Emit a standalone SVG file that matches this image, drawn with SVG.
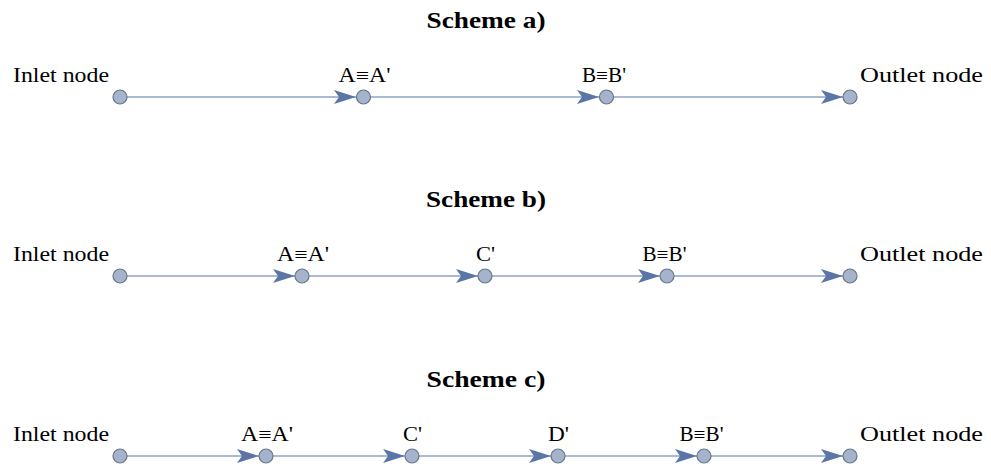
<svg xmlns="http://www.w3.org/2000/svg" xmlns:xlink="http://www.w3.org/1999/xlink" width="991" height="467" viewBox="0 0 991 467">
  <style>
    .title { font-family: "Liberation Serif", "Times New Roman", serif; font-weight: bold; font-size: 23px; fill: #000; text-anchor: middle; }
    .lbl { font-family: "Liberation Serif", "Times New Roman", serif; font-size: 20px; fill: #000; }
    .mid { text-anchor: middle; }
    .edge { stroke: #8ea3c6; stroke-width: 1.4; fill: none; }
    .head { fill: #5b76a6; }
    .node circle { fill: #a5b4cc; stroke: #687686; stroke-width: 1.2; }
  </style>
  <defs>
    <!-- notched arrowhead, tip at origin pointing right -->
    <path id="ah" class="head" d="M0,0 L-22,-7 L-17,0 L-22,7 Z"/>
  </defs>
  <rect width="991" height="467" fill="#fff"/>

  <!-- titles -->
  <text class="title" x="486" y="27.5" textLength="119" lengthAdjust="spacingAndGlyphs">Scheme a)</text>
  <text class="title" x="486" y="207" textLength="120" lengthAdjust="spacingAndGlyphs">Scheme b)</text>
  <text class="title" x="486" y="386.5" textLength="119" lengthAdjust="spacingAndGlyphs">Scheme c)</text>

  <!-- connectors -->
  <g id="connectors">
    <!-- scheme a -->
    <line class="edge" x1="120" y1="97" x2="850" y2="97"/>
    <use xlink:href="#ah" x="356" y="97"/>
    <use xlink:href="#ah" x="599" y="97"/>
    <use xlink:href="#ah" x="843" y="97"/>
    <!-- scheme b -->
    <line class="edge" x1="120" y1="276" x2="850" y2="276"/>
    <use xlink:href="#ah" x="295" y="276"/>
    <use xlink:href="#ah" x="478" y="276"/>
    <use xlink:href="#ah" x="660" y="276"/>
    <use xlink:href="#ah" x="843" y="276"/>
    <!-- scheme c -->
    <line class="edge" x1="120" y1="456" x2="850" y2="456"/>
    <use xlink:href="#ah" x="259" y="456"/>
    <use xlink:href="#ah" x="405" y="456"/>
    <use xlink:href="#ah" x="551" y="456"/>
    <use xlink:href="#ah" x="697" y="456"/>
    <use xlink:href="#ah" x="843" y="456"/>
  </g>

  <!-- scheme a nodes -->
  <g id="a-inlet" class="node"><circle cx="120" cy="97" r="7"/><text class="lbl" x="13" y="82" textLength="96" lengthAdjust="spacingAndGlyphs">Inlet node</text></g>
  <g id="a-A" class="node"><circle cx="363.5" cy="97" r="7"/><text class="lbl mid" x="364.5" y="82" textLength="52" lengthAdjust="spacingAndGlyphs">A≡A'</text></g>
  <g id="a-B" class="node"><circle cx="606.5" cy="97" r="7"/><text class="lbl mid" x="604" y="82" textLength="44" lengthAdjust="spacingAndGlyphs">B≡B'</text></g>
  <g id="a-outlet" class="node"><circle cx="850" cy="97" r="7"/><text class="lbl" x="860" y="82" textLength="123" lengthAdjust="spacingAndGlyphs">Outlet node</text></g>

  <!-- scheme b nodes -->
  <g id="b-inlet" class="node"><circle cx="120" cy="276" r="7"/><text class="lbl" x="13" y="261" textLength="96" lengthAdjust="spacingAndGlyphs">Inlet node</text></g>
  <g id="b-A" class="node"><circle cx="302" cy="276" r="7"/><text class="lbl mid" x="303" y="261" textLength="52" lengthAdjust="spacingAndGlyphs">A≡A'</text></g>
  <g id="b-C" class="node"><circle cx="485" cy="276" r="7"/><text class="lbl mid" x="485.5" y="261" textLength="19" lengthAdjust="spacingAndGlyphs">C'</text></g>
  <g id="b-B" class="node"><circle cx="667" cy="276" r="7"/><text class="lbl mid" x="664.5" y="261" textLength="44" lengthAdjust="spacingAndGlyphs">B≡B'</text></g>
  <g id="b-outlet" class="node"><circle cx="850" cy="276" r="7"/><text class="lbl" x="860" y="261" textLength="123" lengthAdjust="spacingAndGlyphs">Outlet node</text></g>

  <!-- scheme c nodes -->
  <g id="c-inlet" class="node"><circle cx="120" cy="456" r="7"/><text class="lbl" x="13" y="441" textLength="96" lengthAdjust="spacingAndGlyphs">Inlet node</text></g>
  <g id="c-A" class="node"><circle cx="266" cy="456" r="7"/><text class="lbl mid" x="267" y="441" textLength="52" lengthAdjust="spacingAndGlyphs">A≡A'</text></g>
  <g id="c-C" class="node"><circle cx="412" cy="456" r="7"/><text class="lbl mid" x="412.5" y="441" textLength="19" lengthAdjust="spacingAndGlyphs">C'</text></g>
  <g id="c-D" class="node"><circle cx="558" cy="456" r="7"/><text class="lbl mid" x="558.5" y="441" textLength="21" lengthAdjust="spacingAndGlyphs">D'</text></g>
  <g id="c-B" class="node"><circle cx="704" cy="456" r="7"/><text class="lbl mid" x="701.5" y="441" textLength="44" lengthAdjust="spacingAndGlyphs">B≡B'</text></g>
  <g id="c-outlet" class="node"><circle cx="850" cy="456" r="7"/><text class="lbl" x="860" y="441" textLength="123" lengthAdjust="spacingAndGlyphs">Outlet node</text></g>
</svg>
